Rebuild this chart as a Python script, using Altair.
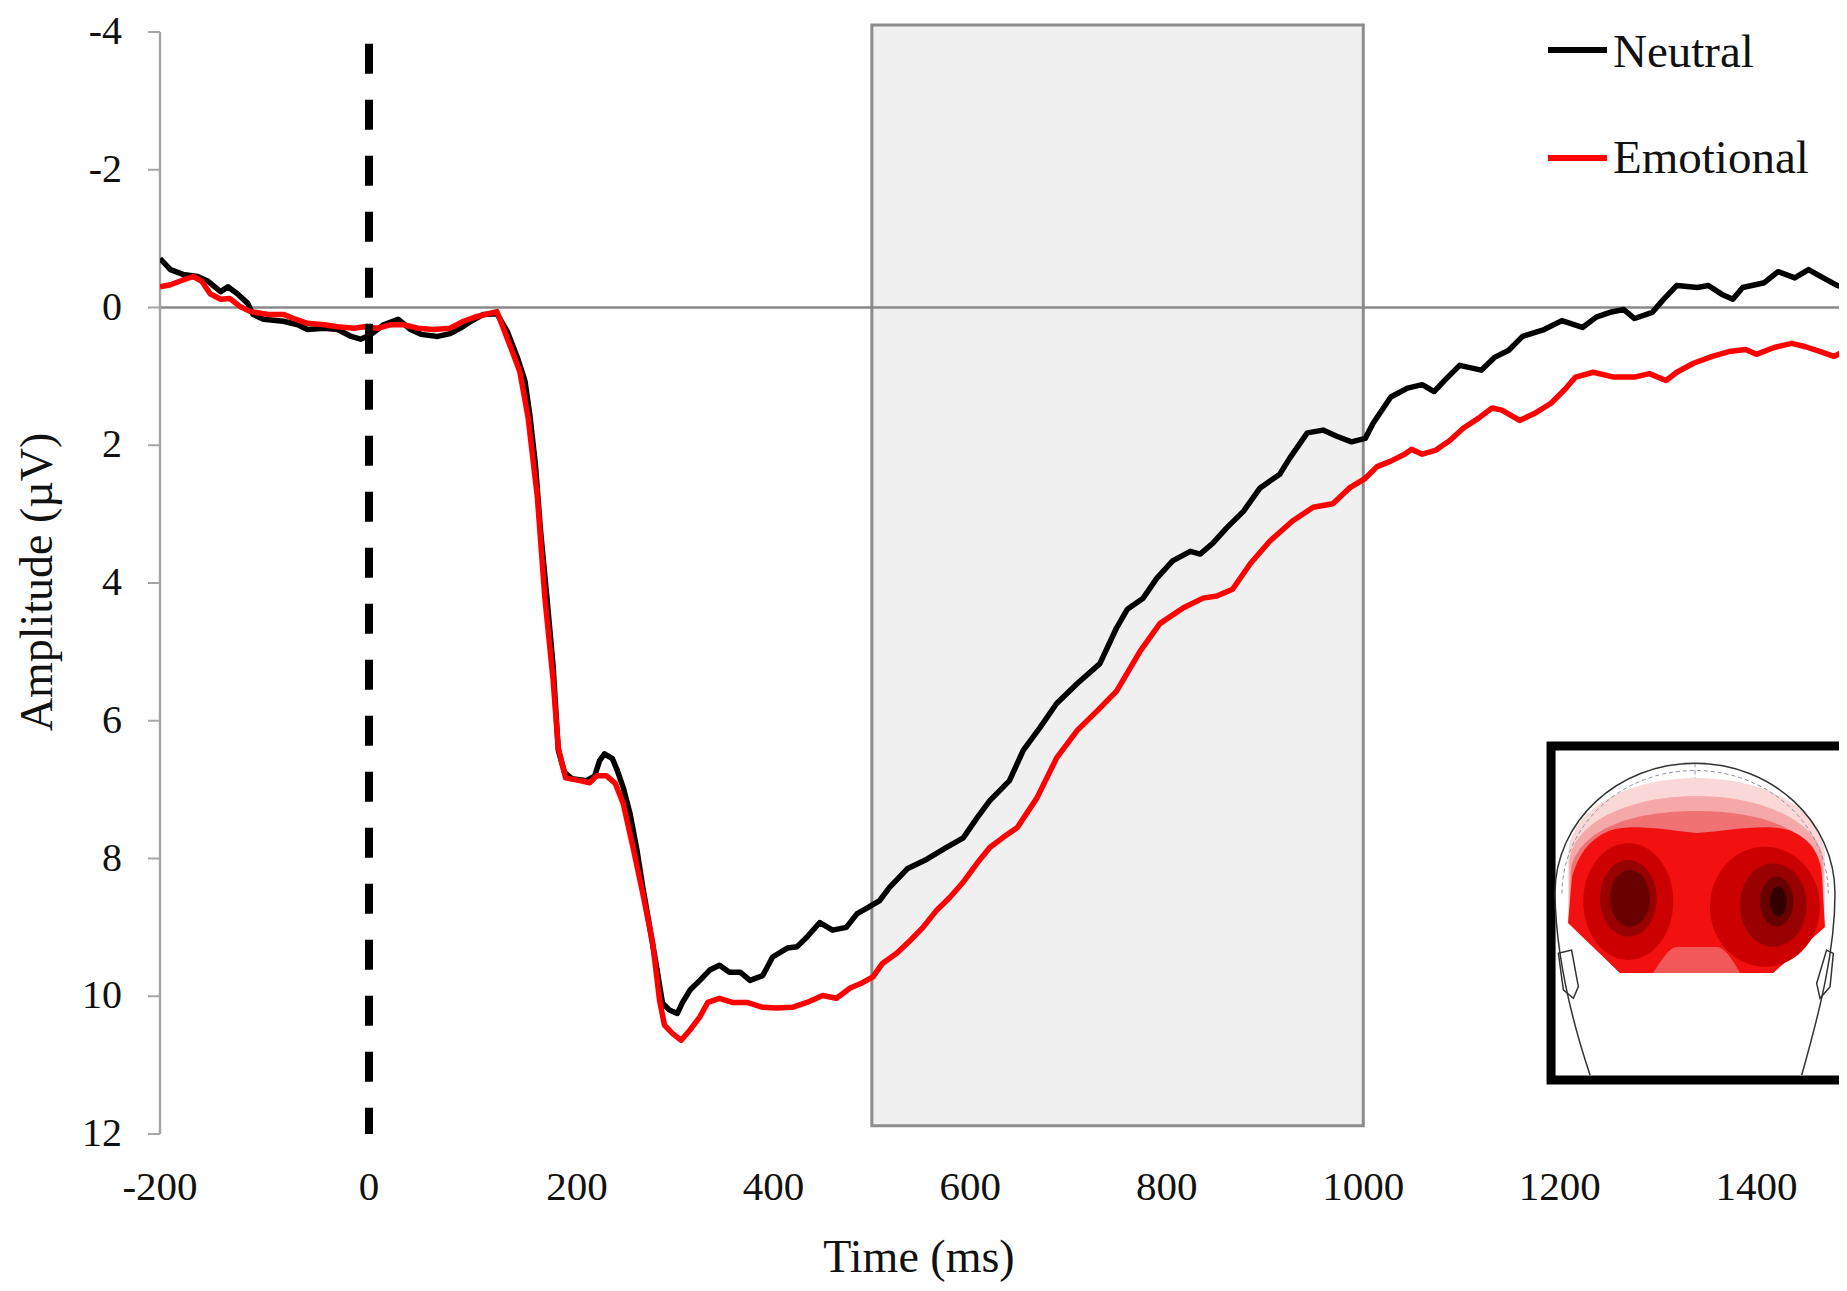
import altair as alt
import pandas as pd

# ---------------- data ----------------
series_names = ["Neutral", "Emotional"]
series_colors = ["#000000", "#ff0000"]

neutral_t = [-200, -190, -178, -164, -154, -142, -135, -126, -116, -111, -101, -82, -68, -59, -43, -30, -17, -8,
             2, 14, 28, 40, 50, 66, 78, 88, 98, 110, 123, 133, 143, 150, 155, 160, 165, 171, 177, 182, 188, 195,
             210, 218, 223, 228, 236, 241, 247, 254, 261, 267, 274, 281, 287, 294, 302, 307, 315, 325, 335, 345,
             355, 366, 376, 389, 399, 414, 424, 434, 447, 460, 474, 485, 495, 508, 518, 536, 556, 576, 593, 607,
             620, 640, 654, 671, 688, 709, 732, 749, 760, 776, 790, 806, 824, 834, 847, 861, 878, 895, 915, 925,
             943, 959, 973, 988, 1002, 1010, 1028, 1045, 1060, 1072, 1084, 1098, 1120, 1134, 1148, 1162, 1184,
             1202, 1223, 1237, 1251, 1265, 1276, 1294, 1305, 1319, 1340, 1351, 1365, 1376, 1386, 1408, 1422,
             1439, 1453, 1468, 1482, 1492]
neutral_v = [-0.71, -0.55, -0.48, -0.45, -0.38, -0.23, -0.30, -0.20, -0.06, 0.10, 0.17, 0.20, 0.25, 0.32, 0.30,
             0.32, 0.42, 0.46, 0.39, 0.25, 0.17, 0.32, 0.39, 0.42, 0.38, 0.30, 0.20, 0.10, 0.09, 0.35, 0.74, 1.07,
             1.60, 2.28, 3.25, 4.20, 5.20, 6.43, 6.75, 6.84, 6.87, 6.80, 6.58, 6.48, 6.55, 6.72, 6.97, 7.35, 7.88,
             8.42, 9.00, 9.58, 10.10, 10.20, 10.25, 10.10, 9.91, 9.77, 9.62, 9.55, 9.65, 9.65, 9.77, 9.70, 9.43,
             9.30, 9.28, 9.14, 8.93, 9.04, 9.00, 8.80, 8.72, 8.61, 8.42, 8.15, 8.01, 7.84, 7.70, 7.41, 7.16, 6.87,
             6.43, 6.10, 5.75, 5.46, 5.17, 4.65, 4.38, 4.22, 3.93, 3.68, 3.54, 3.58, 3.42, 3.20, 2.96, 2.62, 2.42,
             2.19, 1.82, 1.78, 1.87, 1.95, 1.90, 1.68, 1.30, 1.17, 1.12, 1.22, 1.04, 0.84, 0.91, 0.72, 0.62, 0.42,
             0.32, 0.19, 0.29, 0.14, 0.07, 0.03, 0.16, 0.07, -0.11, -0.32, -0.29, -0.32, -0.19, -0.12, -0.29,
             -0.36, -0.52, -0.43, -0.55, -0.43, -0.32, -0.28]

emotional_t = [-200, -190, -178, -168, -160, -152, -142, -133, -123, -113, -97, -82, -72, -59, -43, -30, -14, -5,
               9, 21, 33, 47, 62, 78, 91, 104, 123, 134, 145, 153, 162, 169, 177, 182, 189, 203, 213, 220, 230,
               239, 247, 257, 267, 277, 284, 289, 297, 306, 315, 325, 333, 345, 358, 373, 389, 403, 419, 434, 450,
               464, 478, 491, 501, 511, 525, 539, 552, 566, 579, 592, 607, 620, 633, 648, 668, 688, 709, 729, 749,
               773, 793, 817, 837, 851, 867, 885, 905, 928, 949, 969, 986, 1002, 1014, 1028, 1042, 1049, 1060,
               1074, 1088, 1102, 1117, 1131, 1141, 1159, 1174, 1191, 1205, 1216, 1234, 1255, 1276, 1291, 1308,
               1319, 1336, 1355, 1372, 1389, 1400, 1418, 1436, 1450, 1465, 1479, 1492]
emotional_v = [-0.30, -0.33, -0.40, -0.45, -0.38, -0.20, -0.12, -0.13, -0.01, 0.06, 0.10, 0.10, 0.16, 0.23, 0.25,
               0.28, 0.30, 0.28, 0.30, 0.25, 0.25, 0.30, 0.32, 0.30, 0.20, 0.13, 0.06, 0.49, 0.93, 1.60, 2.77, 4.20,
               5.40, 6.39, 6.83, 6.87, 6.90, 6.80, 6.80, 6.91, 7.20, 7.84, 8.51, 9.23, 10.06, 10.42, 10.54, 10.64,
               10.49, 10.30, 10.09, 10.03, 10.09, 10.09, 10.16, 10.17, 10.16, 10.09, 9.99, 10.03, 9.88, 9.80, 9.72,
               9.52, 9.38, 9.19, 9.00, 8.75, 8.57, 8.36, 8.07, 7.84, 7.70, 7.55, 7.12, 6.54, 6.14, 5.86, 5.57, 4.99,
               4.59, 4.36, 4.22, 4.19, 4.09, 3.72, 3.39, 3.10, 2.90, 2.85, 2.62, 2.48, 2.31, 2.23, 2.13, 2.06, 2.13,
               2.07, 1.93, 1.75, 1.61, 1.46, 1.49, 1.64, 1.54, 1.39, 1.19, 1.01, 0.94, 1.01, 1.01, 0.96, 1.06, 0.94,
               0.81, 0.71, 0.64, 0.61, 0.68, 0.58, 0.52, 0.57, 0.64, 0.71, 0.61]

x_ticks = [-200, 0, 200, 400, 600, 800, 1000, 1200, 1400]
y_ticks = [-4, -2, 0, 2, 4, 6, 8, 10, 12]
window_start = [500]
window_end = [1000]
onset_ms = [0]

# ---------------- layout ----------------
FONT = "Liberation Serif"
TXT = "#111111"
AXIS_GRAY = "#a6a6a6"
W, H = 1679, 1102
# the reference time axis is slightly wider before 200 ms than after it: piecewise linear scale
xscale = alt.Scale(domain=[-200, 0, 200, 1484], range=[0, 209, 417, W], nice=False, zero=False)
yscale = alt.Scale(domain=[-4, 12], reverse=True, nice=False, zero=False)
color_scale = alt.Scale(domain=series_names, range=series_colors)

df_n = pd.DataFrame({"t": neutral_t, "v": neutral_v, "series": series_names[0]})
df_e = pd.DataFrame({"t": emotional_t, "v": emotional_v, "series": series_names[1]})
df_win = pd.DataFrame({"start": window_start, "end": window_end, "top": [-4.1], "bottom": [11.88]})
df_on = pd.DataFrame({"t": onset_ms, "top": [-3.83], "bottom": [12]})
df_zero = pd.DataFrame({"v": [0]})
df_xt = pd.DataFrame({"t": x_ticks, "label": [str(v) for v in x_ticks]})
df_yt = pd.DataFrame({"v": y_ticks, "label": [str(v) for v in y_ticks]})
df_yrange = pd.DataFrame({"lo": [min(y_ticks)], "hi": [max(y_ticks)]})

box = alt.Chart(df_win).mark_rect(fill="#f0f0f0", stroke="#8c8c8c", strokeWidth=3).encode(
    x=alt.X("start:Q", scale=xscale, axis=None), x2="end:Q",
    y=alt.Y("top:Q", scale=yscale, axis=None), y2="bottom:Q")

zero = alt.Chart(df_zero).mark_rule(color="#8a8a8a", strokeWidth=2.5).encode(
    y=alt.Y("v:Q", scale=yscale, axis=None))


def curve(df):
    return alt.Chart(df).mark_line(strokeWidth=5.5, strokeJoin="round", clip=True).encode(
        x=alt.X("t:Q", scale=xscale, axis=None),
        y=alt.Y("v:Q", scale=yscale, axis=None),
        color=alt.Color("series:N", scale=color_scale, legend=None))


onset = alt.Chart(df_on).mark_rule(color="black", strokeWidth=8, strokeDash=[30, 26]).encode(
    x=alt.X("t:Q", scale=xscale, axis=None),
    y=alt.Y("top:Q", scale=yscale, axis=None), y2="bottom:Q")

# ---------------- axes drawn from the tick arrays ----------------
y_domain = alt.Chart(df_yrange).mark_rule(color=AXIS_GRAY, strokeWidth=2.5).encode(
    x=alt.value(0), y=alt.Y("lo:Q", scale=yscale, axis=None), y2="hi:Q")
y_tickmarks = alt.Chart(df_yt).mark_rule(color=AXIS_GRAY, strokeWidth=2).encode(
    x=alt.value(-12), x2=alt.value(0), y=alt.Y("v:Q", scale=yscale, axis=None))
y_labels = alt.Chart(df_yt).mark_text(align="right", baseline="middle", font=FONT, fontSize=40,
                                      color=TXT).encode(
    x=alt.value(-38), y=alt.Y("v:Q", scale=yscale, axis=None), text="label:N")
x_labels = alt.Chart(df_xt).mark_text(align="center", baseline="middle", font=FONT, fontSize=41,
                                      color=TXT).encode(
    x=alt.X("t:Q", scale=xscale, axis=None), y=alt.value(H + 54), text="label:N")
x_title = alt.Chart(pd.DataFrame({"title": ["Time (ms)"]})).mark_text(
    align="center", baseline="middle", font=FONT, fontSize=46, color=TXT).encode(
    x=alt.value(759), y=alt.value(H + 124), text="title:N")
y_title = alt.Chart(pd.DataFrame({"title": ["Amplitude (µV)"]})).mark_text(
    align="center", baseline="middle", font=FONT, fontSize=46, color=TXT, angle=270).encode(
    x=alt.value(-122), y=alt.value(550), text="title:N")

# ---------------- legend (top right) ----------------
legend_layers = []
LEG_SYM_Y = [18, 126]
LEG_TXT_Y = [35, 141]
for i, name in enumerate(series_names):
    d = pd.DataFrame({"label": [name]})
    legend_layers.append(alt.Chart(d).mark_rule(strokeWidth=6, color=series_colors[i]).encode(
        x=alt.value(1388), x2=alt.value(1447), y=alt.value(LEG_SYM_Y[i])))
    legend_layers.append(alt.Chart(d).mark_text(align="left", baseline="alphabetic", font=FONT,
                                                fontSize=47, color=TXT).encode(
        x=alt.value(1453), y=alt.value(LEG_TXT_Y[i]), text="label:N"))

# ---------------- topographic inset (custom symbol paths) ----------------
INSET_X, INSET_Y = 1540, 881
INSET_SIZE = 300 ** 2  # 1 path unit = 150 px


def ellipse_path(cx, cy, rx, ry):
    k = 0.5523
    return (f"M {cx-rx:.3f} {cy:.3f} "
            f"C {cx-rx:.3f} {cy-k*ry:.3f} {cx-k*rx:.3f} {cy-ry:.3f} {cx:.3f} {cy-ry:.3f} "
            f"C {cx+k*rx:.3f} {cy-ry:.3f} {cx+rx:.3f} {cy-k*ry:.3f} {cx+rx:.3f} {cy:.3f} "
            f"C {cx+rx:.3f} {cy+k*ry:.3f} {cx+k*rx:.3f} {cy+ry:.3f} {cx:.3f} {cy+ry:.3f} "
            f"C {cx-k*rx:.3f} {cy+ry:.3f} {cx-rx:.3f} {cy+k*ry:.3f} {cx-rx:.3f} {cy:.3f} Z")


def inset(name, path, fill=None, stroke=None, sw=0.0, dash=None):
    d = pd.DataFrame({"part": [name]})
    if fill is not None:
        m = alt.Chart(d).mark_point(shape=path, size=INSET_SIZE, filled=True, fill=fill,
                                    opacity=1, strokeWidth=sw,
                                    stroke=stroke if stroke else fill)
    elif dash is not None:
        m = alt.Chart(d).mark_point(shape=path, size=INSET_SIZE, filled=False,
                                    opacity=1, stroke=stroke, strokeWidth=sw, strokeDash=dash)
    else:
        m = alt.Chart(d).mark_point(shape=path, size=INSET_SIZE, filled=False,
                                    opacity=1, stroke=stroke, strokeWidth=sw)
    return m.encode(x=alt.value(INSET_X), y=alt.value(INSET_Y))


frame_path = "M -0.993 -1.113 L 0.98 -1.113 L 0.98 1.113 L -0.993 1.113 Z"
pink1 = ("M -0.88 0.067 L -0.88 -0.4 C -0.85 -0.72 -0.45 -0.9 -0.02 -0.9 "
         "C 0.4 -0.9 0.8 -0.72 0.833 -0.4 L 0.833 0.093 L 0.487 0.4 L -0.533 0.4 Z")
pink2 = ("M -0.875 0.067 L -0.87 -0.36 C -0.83 -0.62 -0.45 -0.78 -0.02 -0.78 "
         "C 0.4 -0.78 0.78 -0.62 0.823 -0.36 L 0.828 0.095 L 0.487 0.4 L -0.533 0.4 Z")
pink3 = ("M -0.87 0.067 L -0.86 -0.3 C -0.8 -0.56 -0.45 -0.68 -0.02 -0.68 "
         "C 0.4 -0.68 0.75 -0.56 0.815 -0.3 L 0.825 0.095 L 0.487 0.4 L -0.533 0.4 Z")
red_main = ("M -0.853 -0.24 C -0.8 -0.42 -0.72 -0.5 -0.6 -0.55 C -0.45 -0.6 -0.2 -0.55 -0.02 -0.533 "
            "C 0.2 -0.55 0.45 -0.6 0.6 -0.55 C 0.72 -0.5 0.8 -0.42 0.813 -0.24 "
            "L 0.833 0.093 L 0.487 0.4 L -0.533 0.4 L -0.88 0.067 Z")
chin = ("M -0.313 0.4 C -0.25 0.3 -0.2 0.227 -0.153 0.227 L 0.113 0.227 "
        "C 0.16 0.227 0.21 0.3 0.267 0.4 Z")
head = ("M -0.967 -0.13 C -0.967 -0.61 -0.548 -0.998 -0.033 -0.998 "
        "C 0.482 -0.998 0.9 -0.61 0.9 -0.13 "
        "C 0.9 0.25 0.8 0.65 0.678 1.08 "
        "M -0.967 -0.13 C -0.96 0.3 -0.86 0.7 -0.733 1.08")
guide = ("M -0.92 -0.13 C -0.92 -0.58 -0.53 -0.95 -0.033 -0.95 "
         "C 0.46 -0.95 0.855 -0.58 0.855 -0.13 M -0.033 -0.998 L -0.033 -0.9")
ear_l = "M -0.944 0.269 L -0.856 0.247 L -0.811 0.491 L -0.844 0.569 L -0.911 0.513 Z"
ear_r = "M 0.844 0.247 L 0.889 0.269 L 0.867 0.491 L 0.8 0.569 L 0.778 0.469 Z"

inset_layers = [
    inset("frame", frame_path, fill="#ffffff", stroke="#000000", sw=9),
    inset("p1", pink1, fill="#fbd8d8"),
    inset("p2", pink2, fill="#f5a8a8"),
    inset("p3", pink3, fill="#f07272"),
    inset("red", red_main, fill="#f21010"),
    inset("chin", chin, fill="#f25858"),
    inset("l1", ellipse_path(-0.478, -0.076, 0.30, 0.389), fill="#cc0000"),
    inset("r1", ellipse_path(0.433, -0.042, 0.367, 0.40), fill="#cc0000"),
    inset("l2", ellipse_path(-0.478, -0.098, 0.189, 0.256), fill="#990000"),
    inset("r2", ellipse_path(0.489, -0.053, 0.222, 0.278), fill="#990000"),
    inset("l3", ellipse_path(-0.467, -0.098, 0.133, 0.189), fill="#680000"),
    inset("r3", ellipse_path(0.511, -0.076, 0.111, 0.167), fill="#680000"),
    inset("r4", ellipse_path(0.522, -0.076, 0.056, 0.10), fill="#330000"),
    inset("guide", guide, stroke="#8f8fa8", sw=1, dash=[4, 3]),
    inset("head", head, stroke="#333333", sw=1.5),
    inset("earl", ear_l, stroke="#333333", sw=1.5),
    inset("earr", ear_r, stroke="#333333", sw=1.5),
]

chart = alt.layer(
    box, zero, y_domain, y_tickmarks, curve(df_n), curve(df_e), onset,
    y_labels, x_labels, x_title, y_title, *legend_layers, *inset_layers
).properties(
    width=W, height=H,
    autosize=alt.AutoSizeParams(type="none"),
    padding={"left": 152, "top": 24, "right": 0, "bottom": 149},
    background="white",
).configure_view(stroke=None)

chart.save("out.html", embed_options={"renderer": "svg", "actions": False})
